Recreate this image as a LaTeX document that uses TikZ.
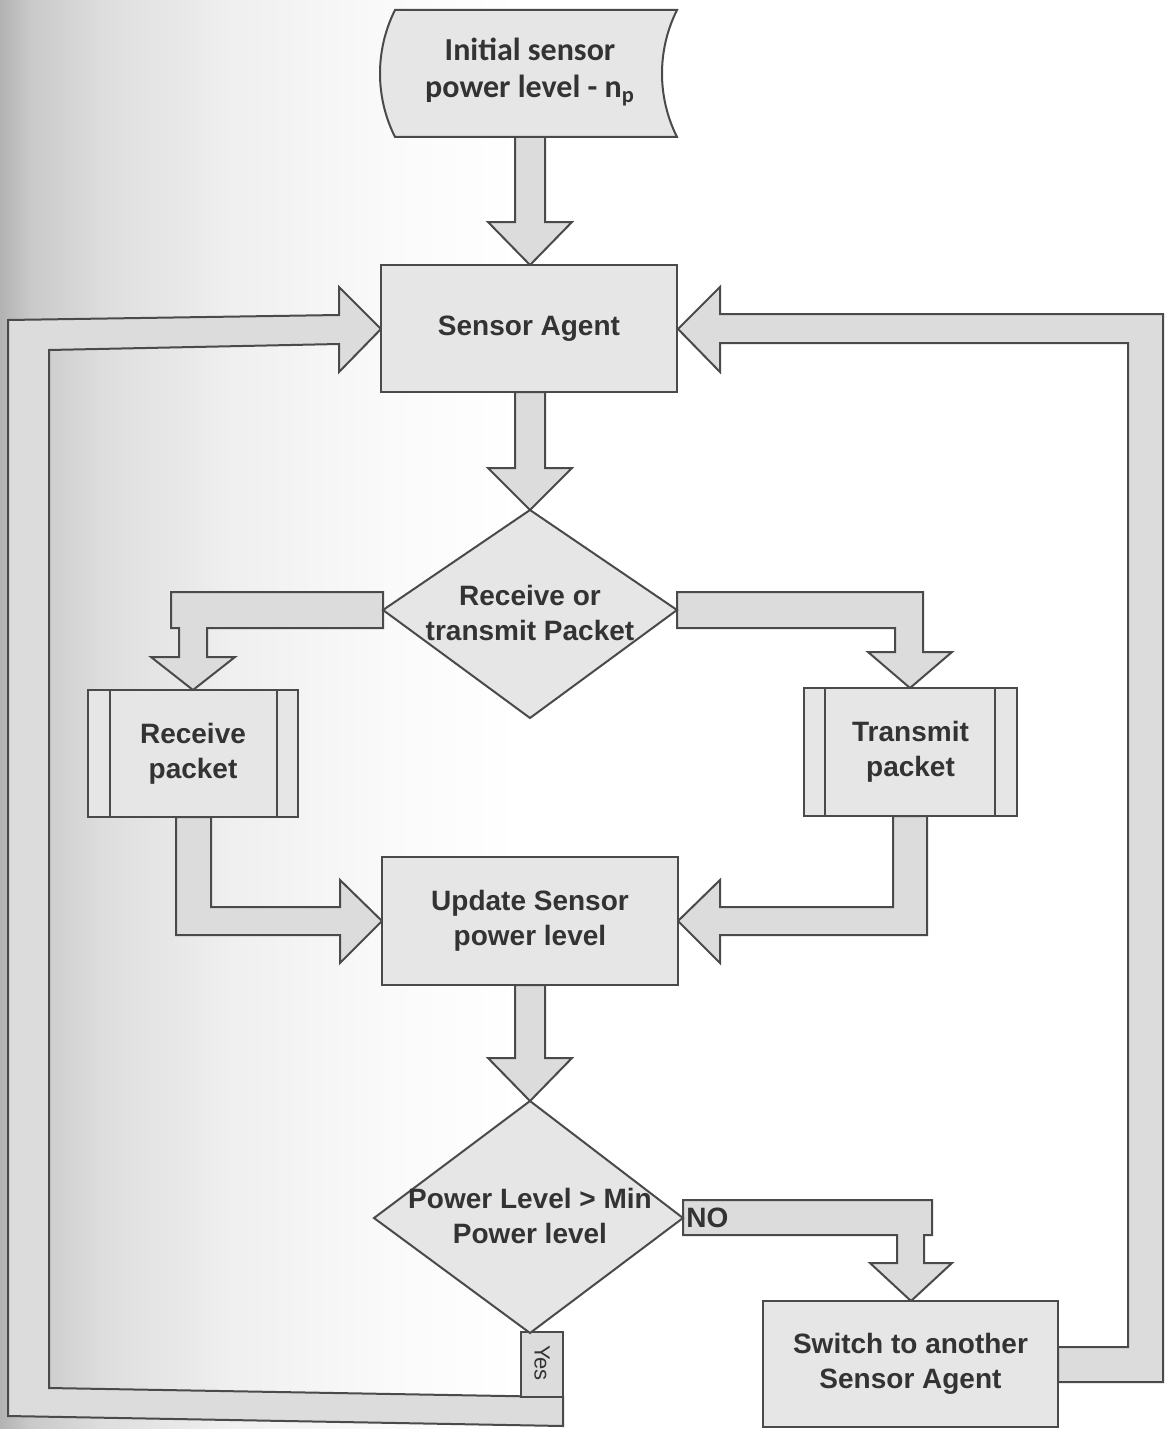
\documentclass[tikz,border=0pt]{standalone}
\usepackage{fontspec}
\setmainfont{Liberation Sans}
\newfontfamily\calfont{Carlito}
\definecolor{linec}{HTML}{4A4A4A}
\definecolor{boxc}{HTML}{E6E6E6}
\definecolor{arrc}{HTML}{DCDCDC}
\definecolor{txtc}{HTML}{333333}
\pgfdeclarehorizontalshading{scanfade}{100bp}{color(0bp)=(black!30); color(25bp)=(black!30); color(28bp)=(black!21); color(35bp)=(black!13); color(47.5bp)=(black!6); color(62.5bp)=(black!2); color(75bp)=(white); color(100bp)=(white)}
\begin{document}
\begin{tikzpicture}[x=0.5pt,y=-0.5pt,
  shp/.style={draw=linec, fill=boxc, line width=1pt, line join=miter},
  arr/.style={draw=linec, fill=arrc, line width=1pt, line join=miter},
  box/.style={draw=linec, fill=boxc, line width=1pt, inner sep=0pt, outer sep=0pt,
    text=txtc, font=\bfseries\fontsize{14}{17.5}\selectfont, align=center},
  lbl/.style={text=txtc, font=\bfseries\fontsize{14}{17.5}\selectfont, align=center, inner sep=0pt}]
\useasboundingbox (0,0) rectangle (1167,1429);
\fill[white] (0,0) rectangle (1167,1429);
\shade[shading=scanfade] (0,0) rectangle (520,1429);

% block arrows / connectors
\draw[arr] (515,137) -- (545,137) -- (545,222) -- (572,222) -- (530,265) -- (488,222) -- (515,222) -- cycle;
\draw[arr] (515,392) -- (545,392) -- (545,468) -- (572,468) -- (530,510) -- (488,468) -- (515,468) -- cycle;
\draw[arr] (515,985) -- (545,985) -- (545,1058) -- (572,1058) -- (530,1101) -- (488,1058) -- (515,1058) -- cycle;
% branches from first decision
\draw[arr] (383,592) -- (171,592) -- (171,628) -- (179,628) -- (179,657) -- (151,657) -- (193,690) -- (235,657) -- (207,657) -- (207,628) -- (383,628) -- cycle;
\draw[arr] (677,592) -- (923,592) -- (923,652) -- (952,652) -- (910,688) -- (868,652) -- (895,652) -- (895,628) -- (677,628) -- cycle;
% into update
\draw[arr] (176,817) -- (211,817) -- (211,907) -- (340,907) -- (340,880) -- (382,921) -- (340,963) -- (340,935) -- (176,935) -- cycle;
\draw[arr] (927,816) -- (893,816) -- (893,907) -- (720,907) -- (720,880) -- (678,921) -- (720,963) -- (720,935) -- (927,935) -- cycle;
% NO branch
\draw[arr] (683,1200) -- (932,1200) -- (932,1235) -- (924,1235) -- (924,1263) -- (952,1263) -- (911,1301) -- (870,1263) -- (897,1263) -- (897,1235) -- (683,1235) -- cycle;
% left loop (Yes)
\draw[arr] (563,1397) -- (563,1426) -- (8,1416) -- (8,320) -- (339,315) -- (339,287) -- (381,329) -- (339,372) -- (339,344) -- (49,350) -- (49,1388) -- cycle;
\draw[arr] (521,1332) rectangle (563,1397);
% right loop
\draw[arr] (1058,1347) -- (1128,1347) -- (1128,343) -- (720,343) -- (720,372) -- (678,329) -- (720,287) -- (720,314) -- (1163,314) -- (1163,1382) -- (1058,1382) -- cycle;

% top data shape
\draw[shp] (395,10) -- (677,10) .. controls (657,50) and (657,97) .. (677,137) -- (395,137) .. controls (375,97) and (375,50) .. (395,10) -- cycle;
\node[lbl, font=\calfont\bfseries\fontsize{16}{18.5}\selectfont] (init) at (530,72) {Initial sensor\\power level - n\textsubscript{p}};

% boxes
\node[box, minimum width=148pt, minimum height=63.5pt] (sa) at (529,328.5) {Sensor Agent};
\node[box, minimum width=148pt, minimum height=64pt] (upd) at (530,921) {Update Sensor\\power level};
\node[box, minimum width=147.5pt, minimum height=63pt] (sw) at (910.5,1364) {Switch to another\\Sensor Agent};
\node[box, minimum width=105pt, minimum height=63.5pt] (rcv) at (193,753.5) {Receive\\packet};
\node[box, minimum width=106.5pt, minimum height=64pt] (trn) at (910.5,752) {Transmit\\packet};
\draw[linec, line width=1pt] ([xshift=11pt]rcv.north west) -- ([xshift=11pt]rcv.south west);
\draw[linec, line width=1pt] ([xshift=-10.5pt]rcv.north east) -- ([xshift=-10.5pt]rcv.south east);
\draw[linec, line width=1pt] ([xshift=10.5pt]trn.north west) -- ([xshift=10.5pt]trn.south west);
\draw[linec, line width=1pt] ([xshift=-11pt]trn.north east) -- ([xshift=-11pt]trn.south east);

% decisions
\draw[shp] (530,510) -- (677,610) -- (530,718) -- (383,610) -- cycle;
\node[lbl] (d1) at (530,613) {Receive or\\transmit Packet};
\draw[shp] (530,1101) -- (683,1218) -- (530,1333) -- (374,1218) -- cycle;
\node[lbl] (d2) at (530,1216) {Power Level > Min\\Power level};

% branch labels
\node[lbl, anchor=west] (no) at (686,1218) {NO};
\node[text=txtc, font=\fontsize{11}{13}\selectfont, rotate=-90, inner sep=0pt] (yes) at (542,1363) {Yes};
\end{tikzpicture}
\end{document}
